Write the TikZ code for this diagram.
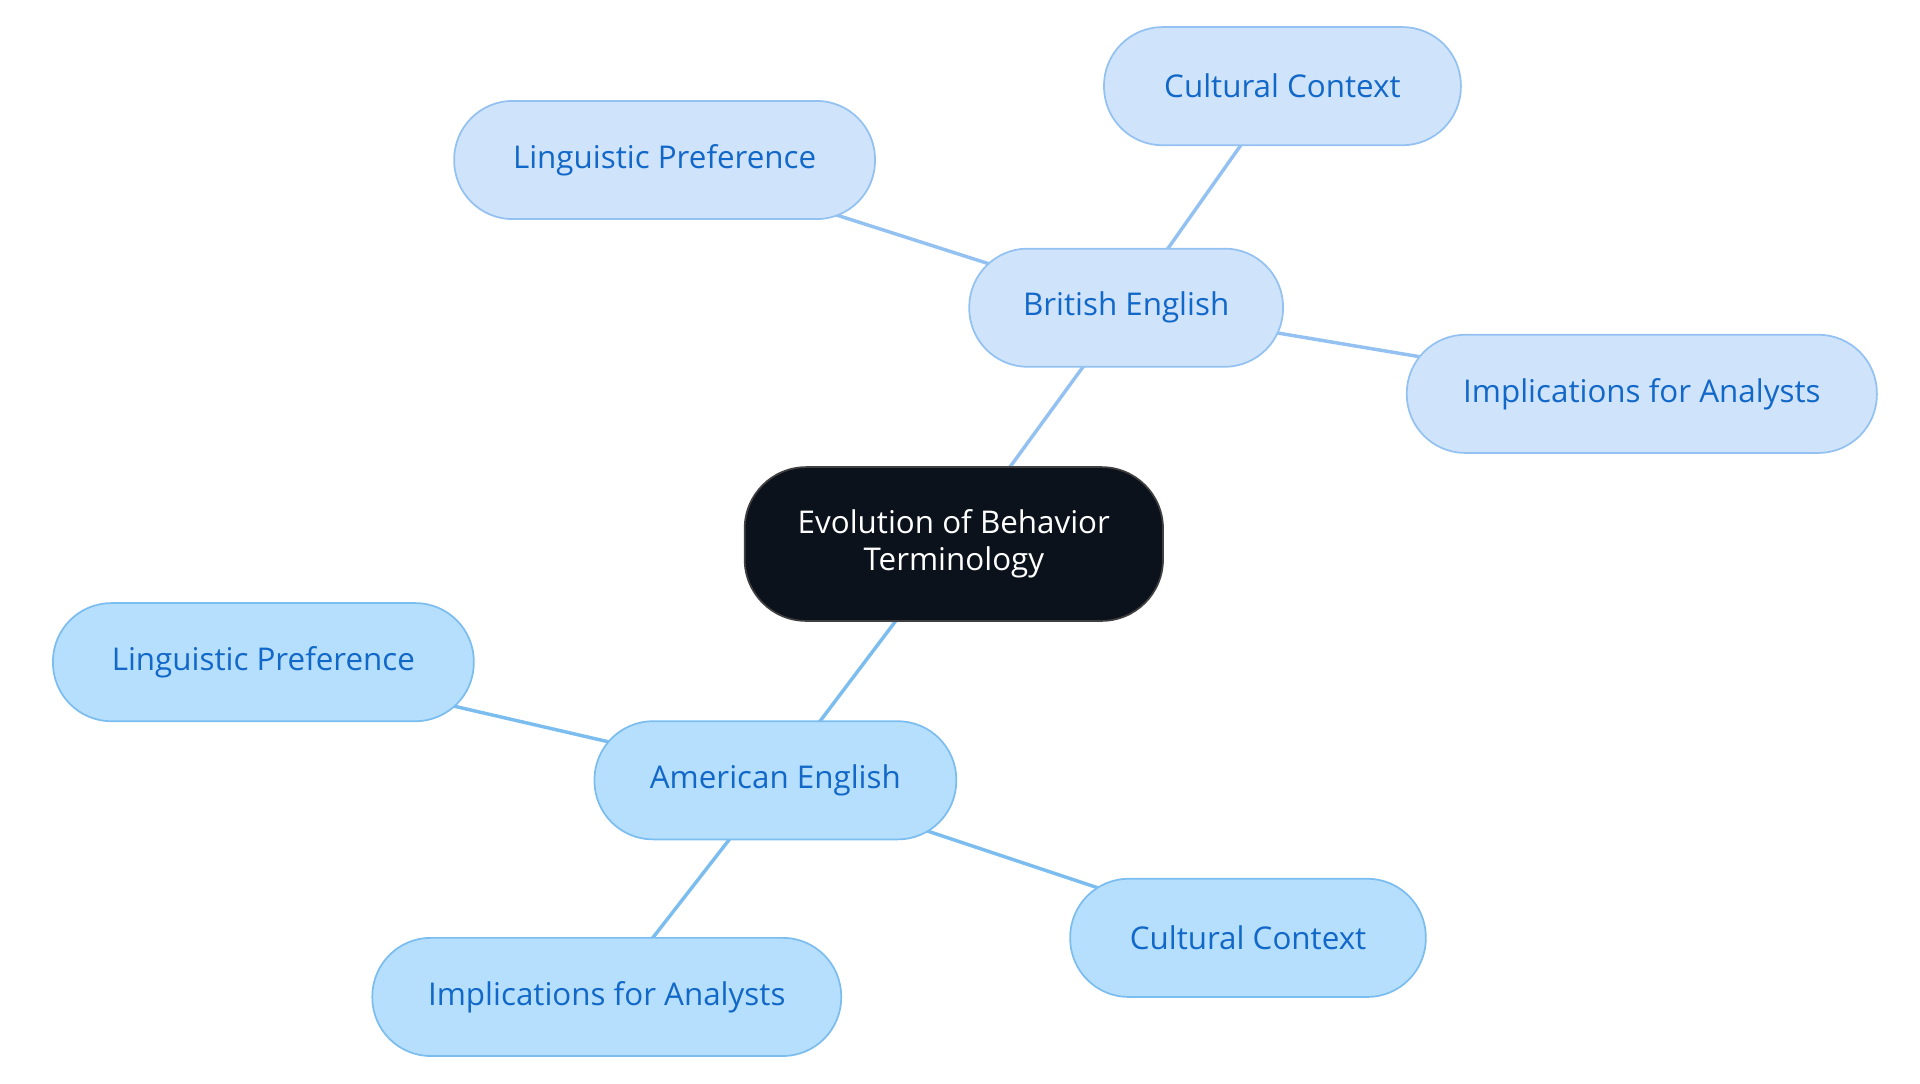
\documentclass[tikz,border=0pt]{standalone}
\usepackage{fontspec}
\setmainfont{Open Sans}
\usetikzlibrary{positioning,backgrounds}
\definecolor{brfill}{HTML}{CFE3FB}
\definecolor{brline}{HTML}{92C1F2}
\definecolor{amfill}{HTML}{B5DFFD}
\definecolor{amline}{HTML}{7CBDF0}
\definecolor{leaftext}{HTML}{1268C8}
\definecolor{rootfill}{HTML}{0C121C}
\tikzset{
  base/.style={rounded corners=0.95cm, minimum height=1.92cm, align=center,
    font=\fontsize{14.5}{17}\selectfont, text=leaftext, line width=0.8pt},
  brnode/.style={base, draw=brline, fill=brfill},
  amnode/.style={base, draw=amline, fill=amfill},
  rootnode/.style={base, draw=black!75, fill=rootfill, text=white, rounded corners=1cm},
  brlink/.style={draw=brline, line width=1.6pt},
  amlink/.style={draw=amline, line width=1.6pt}
}
\begin{document}
\begin{tikzpicture}[x=0.02cm,y=-0.02cm]
  \useasboundingbox (0,0) rectangle (1560,880);
  \node[rootnode, minimum width=6.8cm, minimum height=2.5cm] (root) at (775,442) {Evolution of Behavior\\Terminology};
  \node[brnode, minimum width=5.1cm] (brit) at (915,250) {British English};
  \node[brnode, minimum width=6.84cm] (britling) at (540,130) {Linguistic Preference};
  \node[brnode, minimum width=5.8cm] (britcult) at (1042,70) {Cultural Context};
  \node[brnode, minimum width=7.64cm] (britimpl) at (1334,320) {Implications for Analysts};
  \node[amnode, minimum width=5.88cm] (amer) at (630,634) {American English};
  \node[amnode, minimum width=6.84cm] (amerling) at (214,538) {Linguistic Preference};
  \node[amnode, minimum width=5.78cm] (amercult) at (1014,762) {Cultural Context};
  \node[amnode, minimum width=7.62cm] (amerimpl) at (493,810) {Implications for Analysts};
  \begin{pgfonlayer}{background}
    \draw[brlink] (root.center) -- (brit.center);
    \draw[brlink] (brit.center) -- (britling.center);
    \draw[brlink] (brit.center) -- (britcult.center);
    \draw[brlink] (brit.center) -- (britimpl.center);
    \draw[amlink] (root.center) -- (amer.center);
    \draw[amlink] (amer.center) -- (amerling.center);
    \draw[amlink] (amer.center) -- (amercult.center);
    \draw[amlink] (amer.center) -- (amerimpl.center);
  \end{pgfonlayer}
\end{tikzpicture}
\end{document}
